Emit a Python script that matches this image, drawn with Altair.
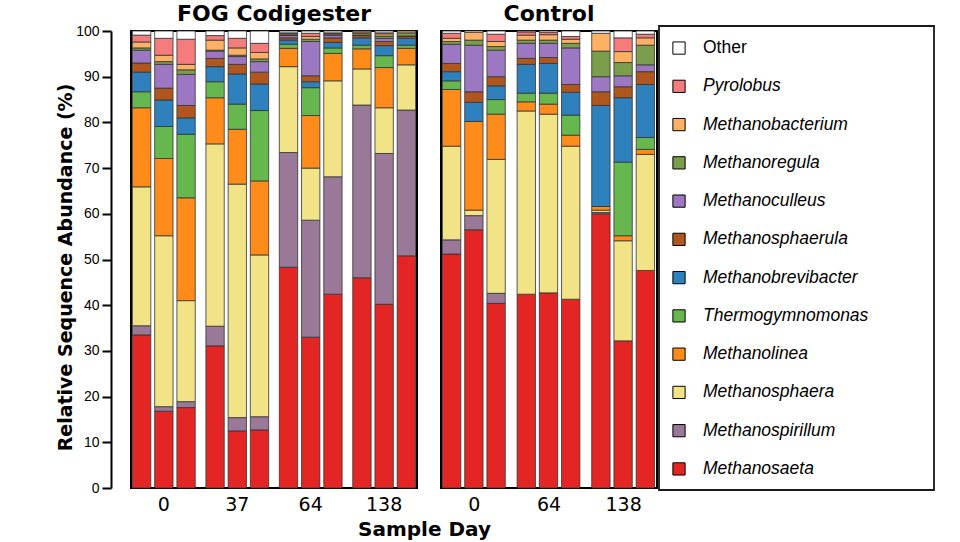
import altair as alt
import pandas as pd

# ---------------- data ----------------
taxa = ["Methanosaeta", "Methanospirillum", "Methanosphaera", "Methanolinea",
        "Thermogymnomonas", "Methanobrevibacter", "Methanosphaerula",
        "Methanoculleus", "Methanoregula", "Methanobacterium", "Pyrolobus", "Other"]
colors = ["#e32623", "#9a7898", "#f1e386", "#ff8c1a", "#66b84e", "#2e81bd",
          "#b0561f", "#9d78c2", "#7b9e4c", "#fdb164", "#f47c7c", "#ffffff"]

panel = ["FOG"] * 12 + ["Control"] * 9
day = ["0", "0", "0", "37", "37", "37", "64", "64", "64", "138", "138", "138",
       "0", "0", "0", "64", "64", "64", "138", "138", "138"]
rep = [1, 2, 3] * 7

# relative abundance (%) per sample: 12 FOG samples then 9 control samples
methanosaeta = [33.5, 16.8, 17.6, 31.1, 12.5, 12.7, 48.3, 33.0, 42.4, 46.0, 40.2, 50.8,
                51.2, 56.5, 40.4, 42.4, 42.7, 41.3, 60.0, 32.2, 47.6]
methanospirillum = [2.0, 1.0, 1.3, 4.3, 2.9, 2.9, 25.1, 25.6, 25.7, 37.8, 33.0, 31.9,
                    3.1, 3.1, 2.2, 0.0, 0.0, 0.0, 0.3, 0.0, 0.0]
methanosphaera = [30.4, 37.4, 22.1, 39.9, 51.1, 35.4, 18.8, 11.4, 21.0, 7.9, 10.0, 9.9,
                  20.5, 1.2, 29.3, 40.1, 39.1, 33.5, 0.5, 21.9, 25.4]
methanolinea = [17.3, 16.9, 22.5, 10.1, 12.0, 16.2, 4.0, 11.5, 6.0, 4.4, 8.8, 3.6,
                12.4, 19.4, 9.9, 2.0, 2.2, 2.4, 0.8, 1.1, 1.1]
thermogymnomonas = [3.5, 7.0, 13.9, 3.5, 5.5, 15.4, 0.9, 6.1, 1.2, 0.8, 2.6, 0.7,
                    1.9, 0.0, 3.2, 1.9, 2.4, 4.4, 0.0, 16.1, 2.6]
methanobrevibacter = [4.3, 5.8, 3.6, 3.3, 6.6, 5.8, 0.9, 1.3, 1.2, 1.6, 2.2, 1.5,
                      2.0, 4.2, 3.0, 6.3, 6.5, 5.0, 22.1, 14.1, 11.6]
methanosphaerula = [2.0, 2.6, 2.7, 1.8, 2.1, 2.6, 0.5, 1.3, 1.0, 0.5, 0.9, 0.4,
                    1.8, 2.3, 2.0, 1.3, 1.3, 1.7, 3.0, 2.4, 2.8]
methanoculleus = [2.8, 5.2, 6.8, 1.6, 1.7, 2.3, 0.5, 7.5, 0.6, 0.1, 0.7, 0.1,
                  4.2, 10.2, 5.8, 3.3, 3.1, 8.0, 3.3, 2.4, 1.5]
methanoregula = [0.5, 0.6, 1.0, 0.2, 0.3, 0.6, 0.2, 0.5, 0.1, 0.4, 0.5, 0.7,
                 0.6, 1.1, 0.8, 0.7, 0.7, 1.0, 5.6, 2.9, 4.3]
methanobacterium = [1.3, 1.4, 1.2, 2.2, 1.6, 1.4, 0.3, 0.6, 0.3, 0.3, 0.5, 0.4,
                    0.7, 1.7, 1.1, 1.1, 1.2, 0.9, 3.9, 2.4, 1.6]
pyrolobus = [1.5, 3.7, 5.5, 1.0, 2.1, 2.0, 0.1, 0.7, 0.1, 0.0, 0.2, 0.0,
             1.1, 0.0, 1.6, 0.7, 0.5, 0.6, 0.0, 3.0, 0.8]
other = [0.9, 1.6, 1.8, 1.0, 1.6, 2.7, 0.4, 0.5, 0.4, 0.2, 0.4, 0.0,
         0.5, 0.3, 0.7, 0.2, 0.3, 1.2, 0.5, 1.5, 0.7]

series = [methanosaeta, methanospirillum, methanosphaera, methanolinea, thermogymnomonas,
          methanobrevibacter, methanosphaerula, methanoculleus, methanoregula,
          methanobacterium, pyrolobus, other]

rows = []
for s in range(len(panel)):
    for k, name in enumerate(taxa):
        v = series[k][s]
        if v > 0:
            rows.append({"Panel": panel[s], "Day": day[s], "Rep": rep[s],
                         "Taxon": name, "Rank": k, "Value": v})
df = pd.DataFrame(rows)

legend_order = taxa[::-1]
leg_df = pd.DataFrame({"Taxon": legend_order})

color_scale = alt.Scale(domain=taxa, range=colors)

# ---------------- panels ----------------
def panel_chart(name, days, title, width, show_y, title_offset):
    yaxis = alt.Axis(
        values=list(range(0, 101, 10)), offset=20, tickSize=9, tickWidth=2,
        domainWidth=2, domainColor="black", tickColor="black",
        labelFont="Liberation Sans", labelFontSize=14, labelColor="black",
        labelPadding=3, grid=False,
        title="Relative Sequence Abundance (%)", titleFont="DejaVu Sans",
        titleFontSize=19, titleFontWeight="bold", titleColor="black",
        titleX=-36, titleY=236, titleAngle=270, titleBaseline="bottom",
    ) if show_y else None
    return (
        alt.Chart(df)
        .transform_filter(alt.datum.Panel == name)
        .transform_stack(stack="Value", groupby=["Day", "Rep"], as_=["y0", "y1"],
                         sort=[alt.SortField("Rank", order="ascending")])
        .mark_bar(stroke="#333333", strokeWidth=0.8)
        .encode(
            x=alt.X("Day:N", sort=days,
                    scale=alt.Scale(paddingInner=0.145, paddingOuter=0.02),
                    axis=alt.Axis(title=None, labelAngle=0, ticks=False, domain=False,
                                  labelFont="DejaVu Sans", labelFontSize=19,
                                  labelColor="black", labelPadding=7)),
            xOffset=alt.XOffset("Rep:N", scale=alt.Scale(paddingInner=0.174, paddingOuter=0)),
            y=alt.Y("y0:Q", scale=alt.Scale(domain=[0, 100], nice=False), axis=yaxis),
            y2="y1:Q",
            color=alt.Color("Taxon:N", scale=color_scale, legend=None),
        )
        .properties(
            width=width, height=457,
            view=alt.ViewBackground(stroke="black", strokeWidth=2),
            title=alt.TitleParams(title, font="DejaVu Sans", fontSize=22, fontWeight="bold",
                                  color="black", anchor="middle", frame="group",
                                  offset=title_offset),
        )
    )

fog = panel_chart("FOG", ["0", "37", "64", "138"], "FOG Codigester", 286, True, -2)
ctl = panel_chart("Control", ["0", "64", "138"], "Control", 216, False, 5)

panels = alt.hconcat(fog, ctl, spacing=22).properties(
    title=alt.TitleParams("Sample Day", orient="bottom", anchor="middle",
                          font="DejaVu Sans", fontSize=20, fontWeight="bold",
                          color="black", dx=68, offset=5)
)

# ---------------- legend panel ----------------
box = alt.Chart(pd.DataFrame({"box": [0]})).mark_rect(
    fill="white", stroke="#1a1a1a", strokeWidth=1.8
).encode(x=alt.value(0), x2=alt.value(275), y=alt.value(-5), y2=alt.value(459))

leg_base = alt.Chart(leg_df).encode(
    y=alt.Y("Taxon:N", sort=legend_order,
            scale=alt.Scale(type="point", padding=0.446), axis=None)
)
squares = leg_base.mark_square(size=150, stroke="black", strokeWidth=1, opacity=1).encode(
    x=alt.value(20),
    color=alt.Color("Taxon:N", scale=color_scale, legend=None),
)
labels_it = leg_base.transform_filter(alt.datum.Taxon != "Other").mark_text(
    align="left", baseline="middle", font="Liberation Sans", fontSize=17.5,
    fontStyle="italic", color="black"
).encode(x=alt.value(44), text="Taxon:N")
labels_other = leg_base.transform_filter(alt.datum.Taxon == "Other").mark_text(
    align="left", baseline="middle", font="Liberation Sans", fontSize=17.5,
    color="black"
).encode(x=alt.value(44), text="Taxon:N")

legend = alt.layer(box, squares, labels_it, labels_other).properties(
    width=275, height=455,
    view=alt.ViewBackground(stroke="transparent", strokeWidth=0),
)

chart = (
    alt.hconcat(panels, legend, spacing=0)
    .properties(padding={"left": 54, "top": 1, "right": 5, "bottom": 0}, background="white")
    .configure_view(stroke="black", strokeWidth=2)
)

chart.save("out.html", embed_options={"renderer": "svg", "actions": False})
